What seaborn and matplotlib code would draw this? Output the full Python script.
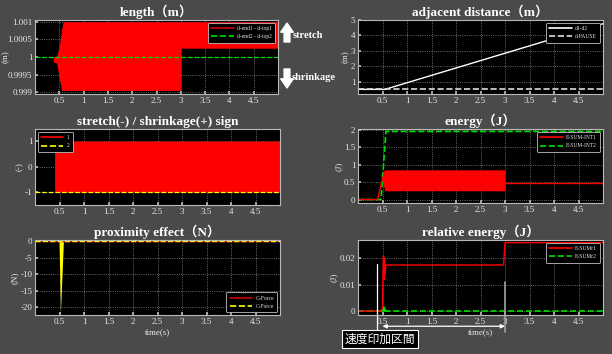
import numpy as np
import pandas as pd
import matplotlib
matplotlib.use("Agg")
import matplotlib.pyplot as plt
from matplotlib.lines import Line2D
from matplotlib.ticker import FuncFormatter
import seaborn as sns

# ---- data ----
# length (m): oscillation envelope of d-end1 - d-top1
len_t = [0.0, 0.37, 0.38, 0.42, 0.45, 0.50, 0.55, 0.58, 3.00, 3.00, 5.00]
len_hi = [1.0, 1.0, 1.0, 1.0, 1.00005, 1.0003, 1.0008, 1.001, 1.001, 1.001, 1.001]
len_lo = [1.0, 1.0, 0.99985, 0.99985, 0.9998, 0.9994, 0.99905, 0.99905, 0.99905, 1.00025, 1.00025]
len2_t = [0.0, 5.0]
len2_v = [1.0, 1.0]

# adjacent distance (m)
dist_t = [0.0, 0.55, 4.0, 5.0]
dist_v = [0.5, 0.5, 3.8, 4.76]
pause_t = [0.0, 5.0]
pause_v = [0.5, 0.5]

# stretch / shrinkage sign
sign_t = [0.40, 0.42, 0.43, 5.0]
sign_hi = [0.65, 0.65, 1.0, 1.0]
sign_lo = [-1.0, -1.0, -1.0, -1.0]
sign2_t = [0.0, 5.0]
sign2_v = [-1.0, -1.0]

# energy (J)
e1_t = [0.0, 0.40, 0.50, 0.55]
e1_v = [0.0, 0.0, 0.60, 0.80]
e1_band_t = [0.50, 0.55, 3.00]
e1_band_hi = [0.60, 0.85, 0.85]
e1_band_lo = [0.50, 0.25, 0.25]
e1_tail_t = [3.0, 5.0]
e1_tail_v = [0.48, 0.48]
e2_t = [0.0, 0.47, 0.57, 5.0]
e2_v = [0.0, 0.0, 1.95, 1.95]

# proximity effect (N)
gf_t = [0.0, 5.0]
gf_v = [0.0, 0.0]
cf_spike_t = [0.49, 0.52, 0.58]
cf_spike_v = [0.0, -21.3, 0.0]

# relative energy (J)
r1_t = [0.0, 0.46, 0.50, 0.51, 0.52, 0.53, 0.54, 0.55, 0.57, 2.97, 3.00, 5.00]
r1_v = [0.0, 0.0, 0.001, 0.015, 0.021, 0.012, 0.020, 0.014, 0.0175, 0.0175, 0.026, 0.026]
r2_t = [0.0, 5.0]
r2_v = [0.0, 0.0]
r2_bump_t = [0.46, 0.52, 0.58]
r2_bump_v = [0.0, 0.0023, 0.0]

speed_start, speed_end = 0.5, 3.0
xticks = [0.5, 1, 1.5, 2, 2.5, 3, 3.5, 4, 4.5]

BG = "#4a4a4a"
RED = "#ff0000"
GREEN = "#00dd00"
YELLOW = "#ffff00"
TXT = "#e8e8e8"

sns.set_theme(style="dark", rc={"axes.facecolor": "black", "figure.facecolor": BG})
plt.rcParams["font.family"] = ["Liberation Serif", "Noto Sans CJK JP"]
SERIF = ["Liberation Serif", "Noto Sans CJK JP"]

W, H = 612, 354
fig = plt.figure(figsize=(W / 100, H / 100), dpi=100, facecolor=BG)


def make_ax(l, t, r, b):
    ax = fig.add_axes([l / W, 1 - b / H, (r - l) / W, (b - t) / H])
    ax.set_facecolor("black")
    for s in ax.spines.values():
        s.set_color("#b8b8b8")
        s.set_linewidth(0.8)
    ax.set_xlim(0, 5)
    ax.set_xticks(xticks)
    ax.xaxis.set_major_formatter(FuncFormatter(lambda v, p: "%g" % v))
    ax.yaxis.set_major_formatter(FuncFormatter(lambda v, p: "%g" % v))
    ax.tick_params(colors="#b8b8b8", labelcolor=TXT, labelsize=6.5, length=2,
                   direction="in", pad=2, bottom=True, left=True)
    ax.grid(True, color="#8a8a8a", linestyle=":", linewidth=0.6)
    return ax


def title(ax, text):
    ax.set_title(text, color="white", fontsize=9.5, fontweight="bold",
                 family=SERIF, pad=3)


def ylab(ax, text):
    ax.set_ylabel(text, color=TXT, fontsize=6.5, labelpad=1)


def legend(ax, entries, loc):
    handles = [Line2D([0], [0], color=c, ls=ls, lw=1.2) for c, ls, _ in entries]
    labels = [lab for _, _, lab in entries]
    leg = ax.legend(handles, labels, loc=loc, fontsize=4, frameon=True,
                    facecolor="black", edgecolor="#c0c0c0", framealpha=1,
                    handlelength=4, borderpad=0.6, labelspacing=0.6,
                    handletextpad=0.6)
    leg.get_frame().set_linewidth(0.6)
    for t in leg.get_texts():
        t.set_color(TXT)


def line(ax, t, v, color, ls="-", lw=1.0):
    sns.lineplot(x=t, y=v, ax=ax, color=color, linestyle=ls, linewidth=lw,
                 estimator=None, sort=False, legend=False)


# ---- length ----
ax1 = make_ax(35, 20, 278, 94)
ax1.fill_between(len_t, len_lo, len_hi, color=RED, lw=0)
line(ax1, len2_t, len2_v, GREEN, "--", 0.9)
ax1.set_ylim(0.99895, 1.00105)
ax1.set_yticks([0.999, 0.9995, 1.0, 1.0005, 1.001])
title(ax1, "length（m）")
ylab(ax1, "(m)")
ax1.yaxis.set_label_coords(-0.105, 0.5)
legend(ax1, [("#cc0000", "-", "d-end1 - d-top1"), (GREEN, "--", "d-end2 - d-top2")], "upper right")

# stretch / shrinkage arrows
arrow_style = "simple,head_width=0.75,head_length=0.55,tail_width=0.35"
fig.add_artist(plt.Annotation("", xy=(287, H - 23), xytext=(287, H - 42),
                              xycoords="figure pixels", textcoords="figure pixels",
                              arrowprops=dict(arrowstyle=arrow_style, color="white",
                                              mutation_scale=12, shrinkA=0, shrinkB=0)))
fig.add_artist(plt.Annotation("", xy=(287, H - 88), xytext=(287, H - 69),
                              xycoords="figure pixels", textcoords="figure pixels",
                              arrowprops=dict(arrowstyle=arrow_style, color="white",
                                              mutation_scale=12, shrinkA=0, shrinkB=0)))
fig.text(293 / W, 1 - 36 / H, "stretch", color="white", fontsize=7.5,
         fontweight="bold", va="center", ha="left")
fig.text(292 / W, 1 - 77 / H, "shrinkage", color="white", fontsize=7.5,
         fontweight="bold", va="center", ha="left")

# ---- adjacent distance ----
ax2 = make_ax(358, 20, 603, 94)
line(ax2, dist_t, dist_v, "white", "-", 1.0)
line(ax2, pause_t, pause_v, "#dcdcdc", "--", 1.2)
ax2.set_ylim(0.2, 5)
ax2.set_yticks([1, 2, 3, 4, 5])
title(ax2, "adjacent distance（m）")
ylab(ax2, "(m)")
legend(ax2, [("white", "-", "d1-d2"), ("#dcdcdc", "--", "d-PAUSE")], "upper right")

# ---- sign ----
ax3 = make_ax(35, 129, 280, 205)
ax3.fill_between(sign_t, sign_lo, sign_hi, color=RED, lw=0)
line(ax3, sign2_t, sign2_v, YELLOW, "--", 0.9)
ax3.set_ylim(-1.5, 1.47)
ax3.set_yticks([-1, 0, 1])
title(ax3, "stretch(-) / shrinkage(+) sign")
ylab(ax3, "(-)")
legend(ax3, [(RED, "-", "1"), (YELLOW, "--", "2")], "upper left")

# ---- energy ----
ax4 = make_ax(358, 129, 603, 203)
line(ax4, e2_t, e2_v, GREEN, "--", 1.2)
line(ax4, e1_t, e1_v, RED, "-", 1.0)
ax4.fill_between(e1_band_t, e1_band_lo, e1_band_hi, color=RED, lw=0)
line(ax4, e1_tail_t, e1_tail_v, RED, "-", 1.0)
ax4.set_ylim(-0.1, 2.02)
ax4.set_yticks([0, 0.5, 1, 1.5, 2])
title(ax4, "energy（J）")
ylab(ax4, "(J)")
legend(ax4, [(RED, "-", "E-SUM-INT1"), (GREEN, "--", "E-SUM-INT2")], "upper right")

# ---- proximity effect ----
ax5 = make_ax(35, 240, 280, 315)
ax5.fill_between(cf_spike_t, cf_spike_v, 0, color=YELLOW, lw=0)
line(ax5, gf_t, gf_v, "#cc0000", "-", 1.0)
line(ax5, gf_t, gf_v, YELLOW, "--", 1.0)
ax5.set_ylim(-22.3, 0.3)
ax5.set_yticks([-20, -15, -10, -5, 0])
title(ax5, "proximity effect（N）")
ylab(ax5, "(N)")
ax5.set_xlabel("time(s)", color=TXT, fontsize=6.5, labelpad=2)
legend(ax5, [("#cc0000", "-", "G-Force"), (YELLOW, "--", "C-Force")], "lower right")

# ---- relative energy ----
ax6 = make_ax(358, 240, 603, 315)
ax6.fill_between(r2_bump_t, 0, r2_bump_v, color=GREEN, lw=0)
line(ax6, r2_t, r2_v, GREEN, "--", 1.2)
line(ax6, r1_t, r1_v, RED, "-", 1.0)
ax6.set_ylim(-0.0015, 0.027)
ax6.set_yticks([0, 0.01, 0.02])
title(ax6, "relative energy（J）")
ylab(ax6, "(J)")
ax6.set_xlabel("time(s)", color=TXT, fontsize=6.5, labelpad=2)
legend(ax6, [(RED, "-", "E-SUMr1"), (GREEN, "--", "E-SUMr2")], "upper right")

# speed-application interval annotation
xt = ax6.get_xaxis_transform()
ax6.annotate("", xy=(speed_start, -0.15), xytext=(speed_end, -0.15),
             xycoords=xt, textcoords=xt, annotation_clip=False,
             arrowprops=dict(arrowstyle="<|-|>", color="white", lw=0.9,
                             mutation_scale=6, shrinkA=0, shrinkB=0))
ax6.plot([0.39, 0.39], [0.68, -0.21], transform=xt, color="white", lw=0.9, clip_on=False)
ax6.plot([speed_end, speed_end], [0.44, -0.23], transform=xt, color="#a0a0a0", lw=1.2, clip_on=False)
fig.text(380 / W, 15 / H, "速度印加区間", color="white", fontsize=8.5,
         family=["Noto Sans CJK JP"], ha="center", va="center",
         bbox=dict(boxstyle="square,pad=0.25", facecolor="black", edgecolor="white", lw=0.8))

fig.savefig("out.png", dpi=100, facecolor=BG)
